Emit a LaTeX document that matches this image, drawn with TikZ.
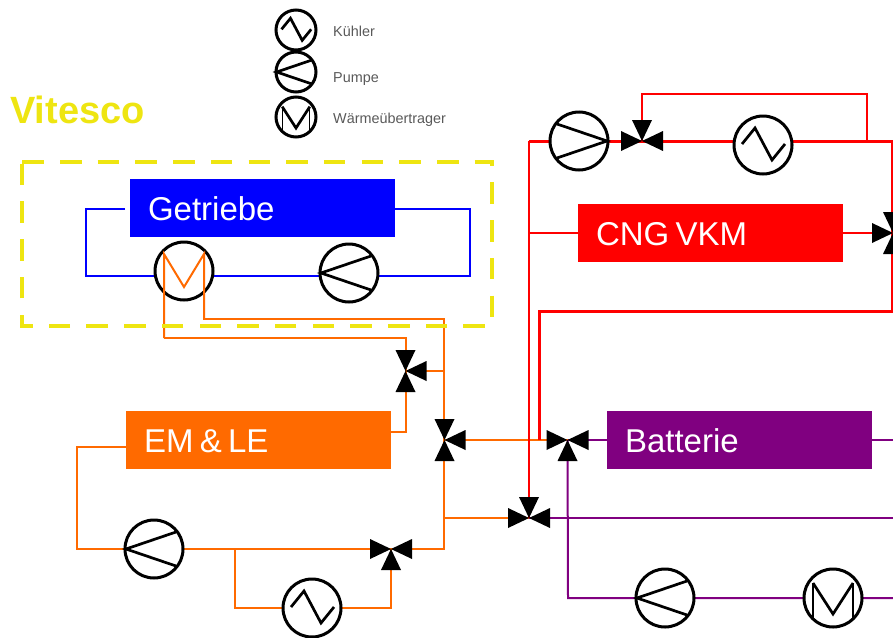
\documentclass[tikz,border=0pt]{standalone}
\usepackage{fontspec}
\setmainfont{Liberation Sans}
\usetikzlibrary{backgrounds}
\definecolor{cOrange}{HTML}{FF6A00}
\definecolor{cPurple}{HTML}{800080}
\definecolor{cYellow}{HTML}{EEE511}
\definecolor{cGrey}{HTML}{595959}
\tikzset{
  x=1pt,y=-1pt,
  symcircle/.style={circle,draw=black,fill=white,line width=3pt,inner sep=0pt,outer sep=0pt},
  symline/.style={black,line width=2.7pt,line join=miter},
  thinline/.style={black,line width=1.3pt},
  blockbox/.style={rectangle,fill=#1,text=white,anchor=north west,minimum height=58pt,text width=229pt,
    inner xsep=18pt,inner ysep=0pt,align=left,text height=25.5pt,text depth=0pt,outer sep=0pt,
    font=\fontsize{33}{36}\selectfont},
  pipeO/.style={cOrange,line width=2pt},
  pipeB/.style={blue,line width=2pt},
  pipeP/.style={cPurple,line width=2pt},
  pipeR/.style={red,line width=3pt},
  pipeRt/.style={red,line width=2.6pt},
  legendtext/.style={text=cGrey,anchor=west,inner sep=0pt,font=\fontsize{14.4}{16}\selectfont},
}
% name, position, radius
\newcommand{\symCool}[3]{%
  \node[symcircle,minimum size=#3*2pt] (#1) at (#2) {};
  \draw[symline,shift={(#2)},scale=#3/29] (-21,-1) -- (-8,-17) -- (9,15) -- (22,-1);}
% name, position, radius, rotation
\newcommand{\symPump}[4]{%
  \node[symcircle,minimum size=#3*2pt] (#1) at (#2) {};
  \draw[symline,shift={(#2)},rotate=#4,scale=#3/29] (22,-17) -- (-28,0) -- (22,17);}
% name, position, radius
\newcommand{\symExch}[3]{%
  \node[symcircle,minimum size=#3*2pt] (#1) at (#2) {};
  \draw[symline,shift={(#2)},scale=#3/29] (-20,-15) -- (0,16) -- (20,-15);
  \draw[thinline,shift={(#2)},scale=#3/29] (-20,-15) -- (-20,20) (20,-15) -- (20,20);}
% coordinate name, rotation (third leg)
\newcommand{\symValve}[2]{%
  \fill[black,shift={(#1)},rotate=#2]
    (0,0) -- (-10,-21) -- (10,-21) -- cycle
    (0,0) -- (-10,21) -- (10,21) -- cycle
    (0,0) -- (21,-10) -- (21,10) -- cycle;}
\begin{document}
\begin{tikzpicture}
\useasboundingbox (0,0) rectangle (893,637);
% text
\node[legendtext,text=cYellow,font=\fontsize{38}{40}\selectfont\bfseries] (title) at (10,110) {Vitesco};
\node[legendtext] (lk) at (333,31) {Kühler};
\node[legendtext] (lp) at (333,79) {Pumpe};
\node[legendtext] (lw) at (333,120) {Wärmeübertrager};
\symCool{legk}{296,30}{20}
\symPump{legp}{296,72}{20}{0}
\symExch{legw}{296,117}{20}
% blocks
\node[blockbox=blue] (getr) at (130,179) {Getriebe};
\node[blockbox=cOrange] (em) at (126,411) {\spaceskip=.19em EM \& LE};
\node[blockbox=red] (cng) at (578,204) {\spaceskip=.19em CNG VKM};
\node[blockbox=cPurple] (bat) at (607,411) {Batterie};
% valve points
\coordinate (v1) at (405.5,371);
\coordinate (v2) at (444.5,440);
\coordinate (v3) at (567.5,440);
\coordinate (v4) at (529,518);
\coordinate (v5) at (642,141);
\coordinate (v6) at (893,233);
\coordinate (v7) at (391,549);
% helper corners
\coordinate (bl) at (86,276);
\coordinate (br) at (470,276);
\coordinate (bs) at (125,209);
\coordinate (wtL) at (164,254);
\coordinate (wtR) at (204,254);
\coordinate (oa) at (164,338);
\coordinate (ob) at (444,319);
\coordinate (oc) at (444,549);
\coordinate (od) at (77,549);
\coordinate (oe) at (235,549);
\coordinate (of) at (235,608);
\coordinate (pa) at (893,440);
\coordinate (pb) at (893,518);
\coordinate (pc) at (568,598);
\coordinate (pd) at (893,598);
\coordinate (ra) at (529,141);
\coordinate (rb) at (892,141);
\coordinate (rc) at (892,311);
\coordinate (rd) at (539,311);
\coordinate (re) at (539,440);
\coordinate (rf) at (642,94);
\coordinate (rg) at (867,94);
\coordinate (rh) at (867,141);
% components
\node[symcircle,minimum size=58pt] (gwt) at (184,271) {};
\symPump{gpump}{349,273}{29}{0}
\symPump{epump}{154,549}{29}{0}
\symCool{ecool}{312,608}{29}
\symPump{bpump}{665,598}{29}{0}
\symExch{bwt}{833,598}{29}
\symPump{rpump}{579,141}{29}{180}
\symCool{rcool}{763,145}{29}
% connectors behind the components
\begin{scope}[on background layer]
  \draw[pipeB] (bs) -| (bl) -- (br) |- (getr.east |- bs);
  \draw[pipeO] (oa) -| (v1);
  \draw[pipeO] (wtR) |- (ob) -- (oc) -- (v7);
  \draw[pipeO] (v1) |- (em.east |- 0,432);
  \draw[pipeO] (444,371) -- (v1);
  \draw[pipeO] (v2) -- (v3);
  \draw[pipeO] (444,518) -- (v4);
  \draw[pipeO] (em.west |- 0,447) -| (od) -- (v7);
  \draw[pipeO] (oe) -- (of) -- (ecool) -| (v7);
  \draw[pipeP] (v3) -- (bat.west |- v3);
  \draw[pipeP] (bat.east |- pa) -- (pa);
  \draw[pipeP] (v4) -- (pb);
  \draw[pipeP] (v3) -- (pc) -- (bpump) -- (bwt) -- (pd);
  \draw[pipeRt] (ra) -- (v4);
  \draw[pipeR] (ra) -- (rpump) -- (v5) -- (rcool.west |- v5) -- (rb) -- (rc) -- (rd) -- (re);
  \draw[pipeR,line width=2.5pt] (v5) -- (rf) -- (rg) -- (rh);
  \draw[pipeRt] (529,233) -- (cng.west |- 0,233);
  \draw[pipeRt] (cng.east |- v6) -- (v6);
\end{scope}
% orange heat exchanger part inside Getriebe circle
\draw[pipeO] (oa) -- (wtL) -- (184,287) -- (wtR) -- (204,319);
% valves
\symValve{v1}{0}
\symValve{v2}{0}
\symValve{v3}{-90}
\symValve{v4}{90}
\symValve{v5}{90}
\symValve{v6}{180}
\symValve{v7}{-90}
% dashed frame
\node[rectangle,anchor=north west,minimum width=470pt,minimum height=163.5pt,inner sep=0pt,outer sep=0pt] (frame) at (22.3,162.3) {};
\draw[cYellow,line width=4pt,dash pattern=on 21.5pt off 16.2pt,line join=miter]
  (frame.north west) -- (frame.north east) -- (frame.south east) -- (frame.south west) -- cycle;
\end{tikzpicture}
\end{document}
